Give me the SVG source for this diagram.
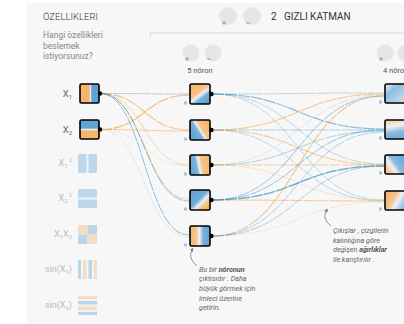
<svg xmlns="http://www.w3.org/2000/svg" width="404" height="324" viewBox="0 0 404 324">
<style>
  text { font-family: Roboto, "Liberation Sans", sans-serif; }
  .hdr { font-size: 9.5px; fill: #333; font-weight: 300; }
  .sub { font-size: 8.5px; fill: #888; }
  .lbl { font-size: 9.5px; fill: #666; }
  .lbl-off { font-size: 9px; fill: #bbb; }
  .cnt { font-size: 7.5px; fill: #555; }
  .note { font-size: 7.2px; fill: #666; font-style: italic; }
  .b { font-weight: bold; fill: #555; }
  .node { stroke: #000; stroke-width: 1.6; }
  .port { fill: #000; }
  .bias { fill: #a9c3d9; }
  .off { opacity: 0.38; }
  .btn { fill: #e6e6e6; }
  .ico { stroke: #888; stroke-width: 0.8; fill: none; }
  .link { fill: none; stroke-dasharray: 12 1; }
  .o { stroke: #f59322; }
  .bl { stroke: #0877bd; }
  .g { stroke: #bbbbbb; }
  .arrow { fill: none; stroke: #888; stroke-width: 0.9; marker-end: url(#ah); }
</style>
<defs>
  <marker id="ah" viewBox="0 0 6 6" refX="3" refY="3" markerWidth="5" markerHeight="5" orient="auto">
    <path d="M0,0.5 L5,3 L0,5.5 Z" fill="#777"/>
  </marker>
  <linearGradient id="gX1" x1="0" y1="0" x2="1" y2="0">
    <stop offset="0" stop-color="#f6b46d"/><stop offset="0.48" stop-color="#f6b46d"/>
    <stop offset="0.55" stop-color="#eef1f2"/><stop offset="0.62" stop-color="#5fa2d4"/><stop offset="1" stop-color="#5fa2d4"/>
  </linearGradient>
  <linearGradient id="gX2" x1="0" y1="0" x2="0" y2="1">
    <stop offset="0" stop-color="#5fa2d4"/><stop offset="0.42" stop-color="#5fa2d4"/>
    <stop offset="0.5" stop-color="#eef1f2"/><stop offset="0.58" stop-color="#f6b46d"/><stop offset="1" stop-color="#f6b46d"/>
  </linearGradient>
  <linearGradient id="gSq1" x1="0" y1="0" x2="1" y2="0">
    <stop offset="0" stop-color="#5fa2d4"/><stop offset="0.4" stop-color="#5fa2d4"/>
    <stop offset="0.5" stop-color="#dfeaf3"/><stop offset="0.6" stop-color="#5fa2d4"/><stop offset="1" stop-color="#5fa2d4"/>
  </linearGradient>
  <linearGradient id="gSq2" x1="0" y1="0" x2="0" y2="1">
    <stop offset="0" stop-color="#5fa2d4"/><stop offset="0.4" stop-color="#5fa2d4"/>
    <stop offset="0.5" stop-color="#dfeaf3"/><stop offset="0.6" stop-color="#5fa2d4"/><stop offset="1" stop-color="#5fa2d4"/>
  </linearGradient>
  <linearGradient id="gH1" x1="0.2" y1="0.1" x2="0.8" y2="0.9">
    <stop offset="0" stop-color="#f6b46d"/><stop offset="0.4" stop-color="#f6c48e"/>
    <stop offset="0.55" stop-color="#eef1f2"/><stop offset="0.72" stop-color="#7ab2dc"/><stop offset="1" stop-color="#5fa2d4"/>
  </linearGradient>
  <linearGradient id="gH2" x1="0.1" y1="0.75" x2="0.9" y2="0.25">
    <stop offset="0" stop-color="#5fa2d4"/><stop offset="0.38" stop-color="#7ab2dc"/>
    <stop offset="0.5" stop-color="#eef1f2"/><stop offset="0.62" stop-color="#f6c48e"/><stop offset="1" stop-color="#f6b46d"/>
  </linearGradient>
  <linearGradient id="gH3" x1="0" y1="0.6" x2="1" y2="0.4">
    <stop offset="0" stop-color="#5fa2d4"/><stop offset="0.32" stop-color="#7ab2dc"/>
    <stop offset="0.45" stop-color="#eef1f2"/><stop offset="0.6" stop-color="#f6c48e"/><stop offset="1" stop-color="#f6b46d"/>
  </linearGradient>
  <linearGradient id="gH4" x1="0.1" y1="0.1" x2="0.9" y2="0.9">
    <stop offset="0" stop-color="#5fa2d4"/><stop offset="0.45" stop-color="#6eaad8"/>
    <stop offset="0.62" stop-color="#eef1f2"/><stop offset="0.8" stop-color="#f6c48e"/><stop offset="1" stop-color="#f6b46d"/>
  </linearGradient>
  <linearGradient id="gH5" x1="0" y1="0" x2="1" y2="0">
    <stop offset="0" stop-color="#f6b46d"/><stop offset="0.3" stop-color="#f6c48e"/>
    <stop offset="0.48" stop-color="#eef1f2"/><stop offset="0.65" stop-color="#7ab2dc"/><stop offset="1" stop-color="#5fa2d4"/>
  </linearGradient>
  <linearGradient id="gL1" x1="0" y1="0" x2="1" y2="1">
    <stop offset="0" stop-color="#e4ecf2"/><stop offset="0.35" stop-color="#8dbde2"/>
    <stop offset="0.7" stop-color="#b7d3ea"/><stop offset="1" stop-color="#f6cfa2"/>
  </linearGradient>
  <linearGradient id="gL2" x1="0.2" y1="0" x2="0.4" y2="1">
    <stop offset="0" stop-color="#f6cfa2"/><stop offset="0.35" stop-color="#eef1f2"/>
    <stop offset="0.65" stop-color="#8dbde2"/><stop offset="1" stop-color="#6eaad8"/>
  </linearGradient>
  <linearGradient id="gL3" x1="0" y1="0.7" x2="0.8" y2="0.2">
    <stop offset="0" stop-color="#f6c48e"/><stop offset="0.35" stop-color="#eef1f2"/>
    <stop offset="0.55" stop-color="#8dbde2"/><stop offset="1" stop-color="#6eaad8"/>
  </linearGradient>
  <linearGradient id="gL4" x1="0" y1="0.3" x2="1" y2="0.8">
    <stop offset="0" stop-color="#f6b46d"/><stop offset="0.35" stop-color="#f6c48e"/>
    <stop offset="0.55" stop-color="#eef1f2"/><stop offset="1" stop-color="#6eaad8"/>
  </linearGradient>
</defs>

<rect x="0" y="0" width="404" height="324" fill="#ffffff"/>
<rect x="27" y="3" width="377" height="321" fill="#f7f7f7"/>

<g id="header">
  <text class="hdr" x="43" y="20">ÖZELLIKLERI</text>
  <text class="sub" x="43" y="38">Hangi özellikleri</text>
  <text class="sub" x="43" y="48.5">beslemek</text>
  <text class="sub" x="43" y="59">istiyorsunuz?</text>
  <circle class="btn" cx="228" cy="16" r="9"/>
  <path class="ico" d="M222,23 h4 M224,21 v4"/>
  <circle class="btn" cx="252" cy="16" r="9"/>
  <path class="ico" d="M246,23 h4"/>
  <text x="271" y="20" style="font-size:10px;fill:#333">2</text>
  <text x="284" y="20" style="font-size:10px;fill:#333">GIZLI KATMAN</text>
  <path d="M150,37 V33 H404" fill="none" stroke="#d8d8d8" stroke-width="1"/>
  <circle class="btn" cx="191" cy="53" r="8.5"/>
  <path class="ico" d="M185,59 h4 M187,57 v4"/>
  <circle class="btn" cx="213" cy="53" r="8.5"/>
  <path class="ico" d="M207,59 h4"/>
  <text class="cnt" x="200" y="73" text-anchor="middle">5 nöron</text>
  <circle class="btn" cx="385" cy="53" r="8.5"/>
  <path class="ico" d="M379,59 h4 M381,57 v4"/>
  <circle class="btn" cx="406" cy="53" r="8.5"/>
  <text class="cnt" x="383" y="73">4 nöron</text>
</g>

<g id="connectors">
  <path class="link bl" stroke-width="1" opacity="0.3" d="M100,93.5 C144.5,93.5 144.5,94 189,94"/>
  <path class="link o" stroke-width="1.2" opacity="0.5" d="M100,93.5 C144.5,93.5 144.5,130 189,130"/>
  <path class="link o" stroke-width="1" opacity="0.35" d="M100,93.5 C144.5,93.5 144.5,165 189,165"/>
  <path class="link o" stroke-width="1" opacity="0.4" d="M100,93.5 C144.5,93.5 144.5,199 189,199"/>
  <path class="link bl" stroke-width="1" opacity="0.45" d="M100,93.5 C144.5,93.5 144.5,201 189,201"/>
  <path class="link bl" stroke-width="1" opacity="0.45" d="M100,93.5 C144.5,93.5 144.5,235 189,235"/>
  <path class="link o" stroke-width="1.3" opacity="0.55" d="M100,129.5 C144.5,129.5 144.5,95 189,95"/>
  <path class="link o" stroke-width="1" opacity="0.45" d="M100,129.5 C144.5,129.5 144.5,131 189,131"/>
  <path class="link o" stroke-width="0.8" opacity="0.22" d="M100,129.5 C144.5,129.5 144.5,166 189,166"/>
  <path class="link g" stroke-width="0.8" opacity="0.35" d="M100,129.5 C144.5,129.5 144.5,237 189,237"/>

  <path class="link bl" stroke-width="1" opacity="0.25" d="M212,94 C298,94 298,93 384,93"/>
  <path class="link bl" stroke-width="1.2" opacity="0.45" d="M212,94 C298,94 298,129 384,129"/>
  <path class="link bl" stroke-width="1" opacity="0.25" d="M212,94 C298,94 298,164 384,164"/>
  <path class="link bl" stroke-width="1" opacity="0.25" d="M212,94 C298,94 298,200 384,200"/>
  <path class="link o" stroke-width="1.1" opacity="0.45" d="M212,130 C298,130 298,94 384,94"/>
  <path class="link bl" stroke-width="1" opacity="0.3" d="M212,130 C298,130 298,130 384,130"/>
  <path class="link o" stroke-width="1.1" opacity="0.45" d="M212,130 C298,130 298,165 384,165"/>
  <path class="link bl" stroke-width="1" opacity="0.25" d="M212,130 C298,130 298,201 384,201"/>
  <path class="link g" stroke-width="0.8" opacity="0.4" d="M212,165 C298,165 298,95 384,95"/>
  <path class="link bl" stroke-width="1" opacity="0.3" d="M212,165 C298,165 298,131 384,131"/>
  <path class="link o" stroke-width="1" opacity="0.4" d="M212,165 C298,165 298,165 384,165"/>
  <path class="link o" stroke-width="0.8" opacity="0.25" d="M212,165 C298,165 298,200 384,200"/>
  <path class="link bl" stroke-width="1" opacity="0.4" d="M212,200 C298,200 298,96 384,96"/>
  <path class="link bl" stroke-width="1" opacity="0.4" d="M212,200 C298,200 298,130 384,130"/>
  <path class="link bl" stroke-width="1.4" opacity="0.55" d="M212,200 C298,200 298,166 384,166"/>
  <path class="link o" stroke-width="1.1" opacity="0.45" d="M212,200 C298,200 298,201 384,201"/>
  <path class="link o" stroke-width="1.1" opacity="0.5" d="M212,236 C298,236 298,96 384,96"/>
  <path class="link bl" stroke-width="1" opacity="0.3" d="M212,236 C298,236 298,132 384,132"/>
  <path class="link bl" stroke-width="1" opacity="0.3" d="M212,236 C298,236 298,166 384,166"/>
  <path class="link o" stroke-width="0.8" opacity="0.22" d="M212,236 C298,236 298,202 384,202"/>
</g>

<g id="in-x1">
  <text class="lbl" x="72" y="97" text-anchor="end">X<tspan font-size="6" dy="2">1</tspan></text>
  <rect class="node" x="80" y="84" width="19" height="19" rx="1.5" fill="url(#gX1)"/>
  <circle class="port" cx="100" cy="93.5" r="2.2"/>
</g>
<g id="in-x2">
  <text class="lbl" x="72" y="133" text-anchor="end">X<tspan font-size="6" dy="2">2</tspan></text>
  <rect class="node" x="80" y="120" width="19" height="19" rx="1.5" fill="url(#gX2)"/>
  <circle class="port" cx="100" cy="129.5" r="2.2"/>
</g>
<g id="in-x1sq">
  <text class="lbl-off" x="72" y="166" text-anchor="end">X<tspan font-size="6" dy="2">1</tspan><tspan font-size="6" dy="-6" dx="1">2</tspan></text>
  <rect class="off" x="78" y="154" width="19" height="19" rx="1.5" fill="url(#gSq1)"/>
</g>
<g id="in-x2sq">
  <text class="lbl-off" x="72" y="201" text-anchor="end">X<tspan font-size="6" dy="2">2</tspan><tspan font-size="6" dy="-6" dx="1">2</tspan></text>
  <rect class="off" x="78" y="189" width="19" height="19" rx="1.5" fill="url(#gSq2)"/>
</g>
<g id="in-x1x2">
  <text class="lbl-off" x="72" y="237" text-anchor="end">X<tspan font-size="6" dy="2">1</tspan><tspan dy="-2">X</tspan><tspan font-size="6" dy="2">2</tspan></text>
  <g class="off">
    <rect x="78" y="225" width="9.5" height="9.5" fill="#f6b46d"/>
    <rect x="87.5" y="225" width="9.5" height="9.5" fill="#5fa2d4"/>
    <rect x="78" y="234.5" width="9.5" height="9.5" fill="#5fa2d4"/>
    <rect x="87.5" y="234.5" width="9.5" height="9.5" fill="#f6b46d"/>
  </g>
</g>
<g id="in-sinx1">
  <text class="lbl-off" x="72" y="272" text-anchor="end">sin(X<tspan font-size="6" dy="2">1</tspan><tspan dy="-2">)</tspan></text>
  <g class="off">
    <rect x="78" y="260" width="19" height="19" fill="#eef1f2"/>
    <rect x="78" y="260" width="3" height="19" fill="#5fa2d4"/>
    <rect x="83" y="260" width="3.5" height="19" fill="#f6b46d"/>
    <rect x="88.5" y="260" width="3.5" height="19" fill="#5fa2d4"/>
    <rect x="94" y="260" width="3" height="19" fill="#f6b46d"/>
  </g>
</g>
<g id="in-sinx2">
  <text class="lbl-off" x="72" y="308" text-anchor="end">sin(X<tspan font-size="6" dy="2">2</tspan><tspan dy="-2">)</tspan></text>
  <g class="off">
    <rect x="78" y="296" width="19" height="19" fill="#eef1f2"/>
    <rect x="78" y="296" width="19" height="3" fill="#f6b46d"/>
    <rect x="78" y="301" width="19" height="3.5" fill="#5fa2d4"/>
    <rect x="78" y="306.5" width="19" height="3.5" fill="#f6b46d"/>
    <rect x="78" y="312" width="19" height="3" fill="#5fa2d4"/>
  </g>
</g>

<g id="h1-1">
  <rect class="bias" x="184" y="101.5" width="3" height="3"/>
  <rect class="node" x="190" y="84" width="20" height="20" rx="1.5" fill="url(#gH1)"/>
  <circle class="port" cx="211.5" cy="94" r="2.2"/>
</g>
<g id="h1-2">
  <rect class="bias" x="184" y="137.5" width="3" height="3"/>
  <rect class="node" x="190" y="120" width="20" height="20" rx="1.5" fill="url(#gH2)"/>
  <circle class="port" cx="211.5" cy="130" r="2.2"/>
</g>
<g id="h1-3">
  <rect class="bias" x="184" y="172.5" width="3" height="3"/>
  <rect class="node" x="190" y="155" width="20" height="20" rx="1.5" fill="url(#gH3)"/>
  <circle class="port" cx="211.5" cy="165" r="2.2"/>
</g>
<g id="h1-4">
  <rect class="bias" x="184" y="207.5" width="3" height="3"/>
  <rect class="node" x="190" y="190" width="20" height="20" rx="1.5" fill="url(#gH4)"/>
  <circle class="port" cx="211.5" cy="200" r="2.2"/>
</g>
<g id="h1-5">
  <rect class="bias" x="184" y="243.5" width="3" height="3"/>
  <rect class="node" x="190" y="226" width="20" height="20" rx="1.5" fill="url(#gH5)"/>
  <circle class="port" cx="211.5" cy="236" r="2.2"/>
</g>

<g id="h2-1">
  <rect class="bias" x="379" y="100.5" width="3" height="3"/>
  <rect class="node" x="385" y="84" width="22" height="19" rx="1.5" fill="url(#gL1)"/>
</g>
<g id="h2-2">
  <rect class="bias" x="379" y="136.5" width="3" height="3"/>
  <rect class="node" x="385" y="120" width="22" height="19" rx="1.5" fill="url(#gL2)"/>
</g>
<g id="h2-3">
  <rect class="bias" x="379" y="171.5" width="3" height="3"/>
  <rect class="node" x="385" y="155" width="22" height="19" rx="1.5" fill="url(#gL3)"/>
</g>
<g id="h2-4">
  <rect class="bias" x="379" y="207.5" width="3" height="3"/>
  <rect class="node" x="385" y="191" width="22" height="19" rx="1.5" fill="url(#gL4)"/>
</g>

<g id="note-neuron">
  <path class="arrow" d="M197,266 Q187,258 192.5,249"/>
  <text class="note" x="199" y="271.5">Bu bir <tspan class="b">nöronun</tspan></text>
  <text class="note" x="199" y="281.2">çıktısıdır . Daha</text>
  <text class="note" x="199" y="290.9">büyük görmek için</text>
  <text class="note" x="199" y="300.6">imleci üzerine</text>
  <text class="note" x="199" y="310.3">getirin.</text>
</g>
<g id="note-weights">
  <path class="arrow" d="M331,226 Q321,218 327,210"/>
  <text class="note" x="333" y="233">Çıkışlar , çizgilerin</text>
  <text class="note" x="333" y="242.7">kalınlığına göre</text>
  <text class="note" x="333" y="252.4">değişen <tspan class="b">ağırlıklar</tspan></text>
  <text class="note" x="333" y="262.1">ile karıştırılır .</text>
</g>
</svg>
